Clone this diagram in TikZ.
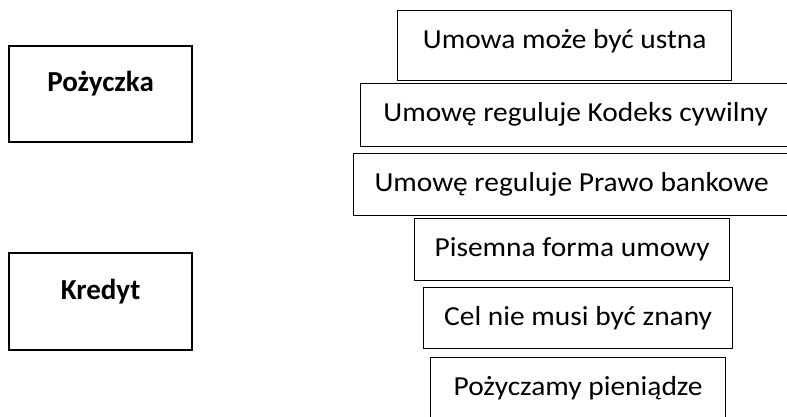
\documentclass[tikz,border=0pt]{standalone}
\usepackage{fontspec}
\setmainfont{Carlito}
\newfontfamily\cechafont{Carlito}[FakeStretch=1.07]
\usepackage{tikz}

\tikzset{
  pojecie/.style 2 args={rectangle,draw=black,line width=2.2pt,anchor=north west,inner sep=0pt,
    minimum width=183pt,text height=#1,text depth=#2,font=\bfseries\fontsize{29}{31}\selectfont},
  cecha/.style n args={3}{rectangle,draw=black,line width=1.3pt,anchor=north west,inner sep=0pt,
    minimum width=#1,text height=#2,text depth=#3,font=\cechafont\fontsize{27.5}{30}\selectfont}
}

\begin{document}
\begin{tikzpicture}[x=1pt,y=-1pt]
\clip (0,0) rectangle (787,416);

% pojecia
\node at (8,45)  [pojecie={45pt}{51pt}] (pozyczka) {Pożyczka};
\node at (8,252) [pojecie={46pt}{51pt}] (kredyt)   {Kredyt};

% cechy
\node at (397,10)  [cecha={334pt}{38pt}{32pt}] (ustna)    {Umowa może być ustna};
\node at (360,83)  [cecha={430pt}{38pt}{25pt}] (kodeks)   {Umowę reguluje Kodeks cywilny};
\node at (353,153) [cecha={436pt}{38pt}{24pt}] (bankowe)  {Umowę reguluje Prawo bankowe};
\node at (414,218) [cecha={315pt}{38pt}{24pt}] (pisemna)  {Pisemna forma umowy};
\node at (423,287) [cecha={309pt}{38pt}{23pt}] (cel)      {Cel nie musi być znany};
\node at (430,357) [cecha={295pt}{38pt}{25pt}] (pieniadze){Pożyczamy pieniądze};
\end{tikzpicture}
\end{document}
